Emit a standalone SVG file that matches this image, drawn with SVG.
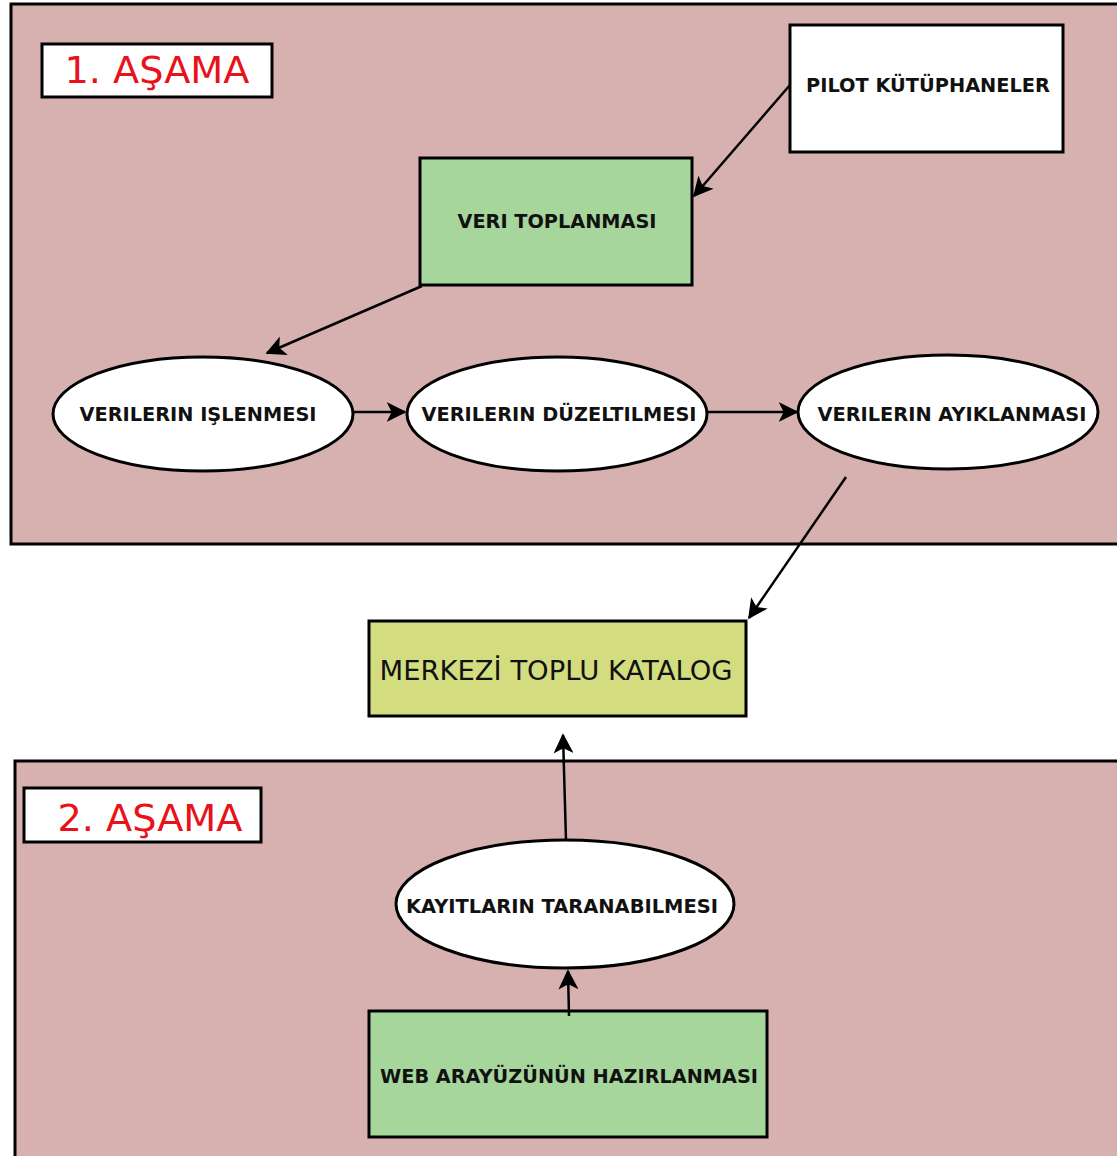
<svg xmlns="http://www.w3.org/2000/svg" width="1117" height="1156" viewBox="0 0 1117 1156">
<style>
.panel{fill:#d7b0b0;stroke:#000;stroke-width:3}
.box{stroke:#000;stroke-width:3}
.ell{fill:#fff;stroke:#000;stroke-width:3}
.lbl{font-family:"DejaVu Sans",sans-serif;font-weight:bold;font-size:20px;fill:#111;text-anchor:middle}
.stage{font-family:"DejaVu Sans",sans-serif;font-size:38px;fill:#e8121a;text-anchor:middle}
.cat{font-family:"DejaVu Sans",sans-serif;font-size:27px;fill:#111;text-anchor:middle}
.conn{stroke:#000;stroke-width:2.5;fill:none;marker-end:url(#ah)}
</style>
<defs>
<marker id="ah" viewBox="0 0 12 12" refX="11" refY="6" markerWidth="8" markerHeight="8" markerUnits="strokeWidth" orient="auto">
<path d="M0,0 L12,6 L0,12 L3,6 z" fill="#000"/>
</marker>
</defs>
<rect width="1117" height="1156" fill="#fff"/>
<g id="stage1">
<rect class="panel" x="11" y="4" width="1110" height="540"/>
</g>
<g id="stage2">
<rect class="panel" x="15" y="761" width="1106" height="400"/>
</g>
<g id="stage1-label">
<rect class="box" fill="#fff" x="42" y="44" width="230" height="53"/>
<text class="stage" x="157" y="83" textLength="185" lengthAdjust="spacingAndGlyphs">1. AŞAMA</text>
</g>
<g id="stage2-label">
<rect class="box" fill="#fff" x="24" y="788" width="237" height="54"/>
<text class="stage" x="150" y="831" textLength="185" lengthAdjust="spacingAndGlyphs">2. AŞAMA</text>
</g>
<g id="pilot">
<rect class="box" fill="#fff" x="790" y="25" width="273" height="127"/>
<text class="lbl" x="928" y="92" textLength="244" lengthAdjust="spacingAndGlyphs">PILOT KÜTÜPHANELER</text>
</g>
<g id="veri-toplanmasi">
<rect class="box" fill="#a6d69c" x="420" y="158" width="272" height="127"/>
<text class="lbl" x="557" y="228" textLength="199" lengthAdjust="spacingAndGlyphs">VERI TOPLANMASI</text>
</g>
<g id="islenmesi">
<ellipse class="ell" cx="203" cy="414" rx="150" ry="57"/>
<text class="lbl" x="198" y="421" textLength="237" lengthAdjust="spacingAndGlyphs">VERILERIN IŞLENMESI</text>
</g>
<g id="duzeltilmesi">
<ellipse class="ell" cx="557" cy="414" rx="150" ry="57"/>
<text class="lbl" x="559" y="421" textLength="275" lengthAdjust="spacingAndGlyphs">VERILERIN DÜZELTILMESI</text>
</g>
<g id="ayiklanmasi">
<ellipse class="ell" cx="948" cy="412" rx="150" ry="57"/>
<text class="lbl" x="952" y="421" textLength="269" lengthAdjust="spacingAndGlyphs">VERILERIN AYIKLANMASI</text>
</g>
<g id="katalog">
<rect class="box" fill="#d3dd7f" x="369" y="621" width="377" height="95"/>
<text class="cat" x="556" y="680" textLength="353" lengthAdjust="spacingAndGlyphs">MERKEZİ TOPLU KATALOG</text>
</g>
<g id="taranabilmesi">
<ellipse class="ell" cx="565" cy="904" rx="169" ry="64"/>
<text class="lbl" x="562" y="913" textLength="312" lengthAdjust="spacingAndGlyphs">KAYITLARIN TARANABILMESI</text>
</g>
<g id="web">
<rect class="box" fill="#a6d69c" x="369" y="1011" width="398" height="126"/>
<text class="lbl" x="569" y="1083" textLength="378" lengthAdjust="spacingAndGlyphs">WEB ARAYÜZÜNÜN HAZIRLANMASI</text>
</g>
<g id="connectors">
<path class="conn" d="M790,85 L694,196"/>
<path class="conn" d="M422,286 L267,353"/>
<path class="conn" d="M353,412 L405,412"/>
<path class="conn" d="M707,412 L797,412"/>
<path class="conn" d="M846,477 L749,618"/>
<path class="conn" d="M566,840 L563,735"/>
<path class="conn" d="M569,1016 L568,971"/>
</g>
</svg>
